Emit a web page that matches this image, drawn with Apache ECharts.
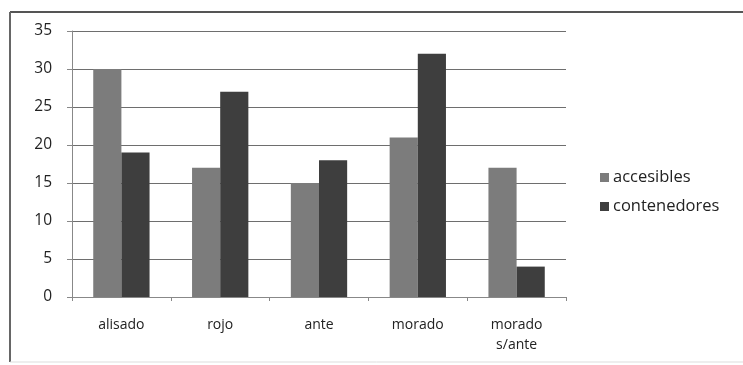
<!DOCTYPE html>
<html>
<head>
<meta charset="utf-8">
<script src="https://cdn.jsdelivr.net/npm/echarts@6/dist/echarts.min.js"></script>
<style>
html,body{margin:0;padding:0;background:#fff;}
#chart{width:743px;height:365px;}
</style>
</head>
<body>
<div id="chart"></div>
<script>
var categories = ['alisado', 'rojo', 'ante', 'morado', 'morado\ns/ante'];
var seriesNames = ['accesibles', 'contenedores'];
var accesibles = [30, 17, 15, 21, 17];
var contenedores = [19, 27, 18, 32, 4];
var yTicks = [0, 5, 10, 15, 20, 25, 30, 35];

var chart = echarts.init(document.getElementById('chart'), null, {renderer: 'canvas'});
var font = '"Open Sans", "Liberation Sans", sans-serif';
chart.setOption({
  animation: false,
  backgroundColor: '#ffffff',
  graphic: [
    {type: 'line', shape: {x1: 10, y1: 12, x2: 743, y2: 12}, style: {stroke: '#555', lineWidth: 2}},
    {type: 'line', shape: {x1: 10, y1: 12, x2: 10, y2: 362}, style: {stroke: '#666', lineWidth: 2}},
    {type: 'line', shape: {x1: 10, y1: 362, x2: 743, y2: 362}, style: {stroke: '#ddd', lineWidth: 1}}
  ],
  grid: {left: 72, right: 177, top: 31, bottom: 68, containLabel: false},
  legend: {
    orient: 'vertical',
    left: 595,
    top: 164,
    itemWidth: 9,
    itemHeight: 9,
    itemGap: 12,
    icon: 'rect',
    data: seriesNames,
    textStyle: {fontFamily: font, fontSize: 16.5, color: '#222', padding: [0, 0, 0, -1]}
  },
  xAxis: {
    type: 'category',
    data: categories,
    axisLine: {lineStyle: {color: '#888', width: 1}},
    axisTick: {show: true, length: 4, lineStyle: {color: '#888'}},
    axisLabel: {fontFamily: font, fontSize: 14, color: '#222', margin: 18, lineHeight: 20}
  },
  yAxis: {
    type: 'value',
    min: 0,
    max: 35,
    interval: 5,
    axisLine: {show: true, lineStyle: {color: '#888', width: 1}},
    axisTick: {show: true, length: 5, lineStyle: {color: '#888'}},
    axisLabel: {fontFamily: font, fontSize: 15.5, color: '#222', margin: 20,
      formatter: function (v) { return yTicks.indexOf(v) >= 0 ? String(v) : ''; }},
    splitLine: {show: true, lineStyle: {color: '#6e6e6e', width: 1}}
  },
  series: [
    {name: seriesNames[0], type: 'bar', data: accesibles, barGap: '0%', barCategoryGap: '43%',
      itemStyle: {color: '#7c7c7c'}},
    {name: seriesNames[1], type: 'bar', data: contenedores, barGap: '0%', barCategoryGap: '43%',
      itemStyle: {color: '#3e3e3e'}}
  ]
});
</script>
</body>
</html>
